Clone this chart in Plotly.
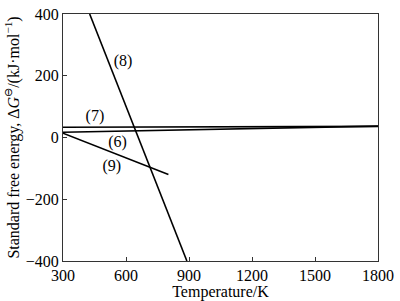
import plotly.graph_objects as go

# Data
line6_T = [300, 1800]
line6_G = [17, 37]
line7_T = [300, 1800]
line7_G = [33, 36]
line8_T = [427, 890]
line8_G = [400, -400]
line9_T = [300, 802]
line9_G = [14, -120]

labels = ["(6)", "(7)", "(8)", "(9)"]
label_T = [560, 452, 586, 532]
label_G = [-17, 67, 245, -95]

x_ticks = [300, 600, 900, 1200, 1500, 1800]
y_ticks = [-400, -200, 0, 200, 400]

FONT = "Liberation Serif, Times New Roman, serif"
FS = 16

fig = go.Figure()
for T, G in [(line6_T, line6_G), (line7_T, line7_G), (line8_T, line8_G), (line9_T, line9_G)]:
    fig.add_trace(go.Scatter(x=T, y=G, mode="lines",
                             line=dict(color="black", width=1.6),
                             showlegend=False, hoverinfo="skip"))

fig.add_trace(go.Scatter(x=label_T, y=label_G, mode="text", text=labels,
                         textfont=dict(family=FONT, size=FS, color="black"),
                         showlegend=False, hoverinfo="skip"))

fig.update_layout(
    width=400, height=301,
    margin=dict(l=63, r=17, t=6, b=38),
    paper_bgcolor="white", plot_bgcolor="white",
    font=dict(family=FONT, size=FS, color="black"),
)
fig.update_xaxes(range=[300, 1800], tickvals=x_ticks, ticks="inside", ticklen=4,
                 tickcolor="#333", showline=True, linecolor="#333", linewidth=1,
                 mirror=True, showgrid=False, zeroline=False,
                 ticklabeloverflow="allow",
                 title=dict(text="Temperature/K", standoff=0,
                            font=dict(family=FONT, size=FS)),
                 tickfont=dict(family=FONT, size=FS))
fig.update_yaxes(range=[-400, 400], tickvals=y_ticks,
                 ticktext=["\u2212400", "\u2212200", "0", "200", "400"],
                 ticks="inside", ticklen=4,
                 tickcolor="#333", showline=True, linecolor="#333", linewidth=1,
                 mirror=True, showgrid=False, zeroline=False,
                 ticklabeloverflow="allow",
                 title=dict(text="Standard free energy, \u0394<i>G</i><sup>\u2296</sup>/(kJ\u00b7mol<sup>\u22121</sup>)",
                            standoff=2, font=dict(family=FONT, size=FS)),
                 tickfont=dict(family=FONT, size=FS))

fig.write_html("out.html")
